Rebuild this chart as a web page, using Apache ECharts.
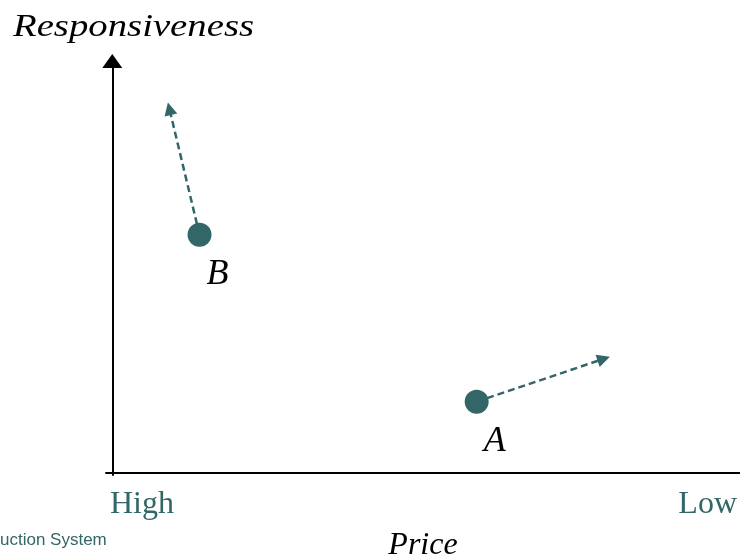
<!DOCTYPE html>
<html>
<head>
<meta charset="utf-8">
<script src="https://cdn.jsdelivr.net/npm/echarts@6/dist/echarts.min.js"></script>
<style>
  html, body { margin: 0; padding: 0; background: #ffffff; }
  #chart { width: 740px; height: 559px; }
</style>
</head>
<body>
<div id="chart"></div>
<script>
// Positioning of two suppliers by price (high -> low) and responsiveness
const pointNames = ['A', 'B'];
const priceValues = [58.05, 13.9];
const responsivenessValues = [17.3, 57.8];

// Where each supplier is heading
const moveToPrice = [78.3, 9.1];
const moveToResponsiveness = [27.7, 88.4];

const priceTickLabels = ['High', 'Low'];
const xAxisTitle = 'Price';
const yAxisTitle = 'Responsiveness';
const footerText = 'uction System';

const xMin = -1, xMax = 100;
const yMin = -0.5, yMax = 100;

const teal = '#336666';
const serif = '"Liberation Serif", "Times New Roman", serif';

const scatterData = pointNames.map((n, i) => ({ name: n, value: [priceValues[i], responsivenessValues[i]] }));
const moveData = pointNames.map((n, i) => ({
  coords: [[priceValues[i], responsivenessValues[i]], [moveToPrice[i], moveToResponsiveness[i]]]
}));

const chart = echarts.init(document.getElementById('chart'), null, { renderer: 'canvas' });

chart.setOption({
  animation: false,
  backgroundColor: '#ffffff',
  grid: { left: 106, right: 0, top: 61, bottom: 84, containLabel: false, outerBoundsMode: 'none' },
  xAxis: {
    type: 'value',
    min: xMin,
    max: xMax,
    name: xAxisTitle,
    nameLocation: 'middle',
    nameGap: 55,
    nameTextStyle: { fontFamily: serif, fontStyle: 'italic', fontSize: 32, color: '#000' },
    axisLine: { onZero: true, lineStyle: { color: '#000', width: 2 } },
    axisTick: { show: false },
    splitLine: { show: false },
    axisLabel: {
      customValues: [xMin, xMax],
      formatter: v => (v === xMin ? priceTickLabels[0] : priceTickLabels[1]),
      alignMinLabel: 'left',
      alignMaxLabel: 'right',
      margin: 14,
      padding: [0, 3, 0, 4],
      fontFamily: serif,
      fontSize: 32,
      color: teal
    }
  },
  yAxis: {
    type: 'value',
    min: yMin,
    max: yMax,
    axisLine: {
      onZero: true,
      symbol: ['none', 'triangle'],
      symbolSize: [20, 14],
      lineStyle: { color: '#000', width: 2 }
    },
    axisTick: { show: false },
    axisLabel: { show: false },
    splitLine: { show: false }
  },
  series: [
    {
      type: 'lines',
      coordinateSystem: 'cartesian2d',
      z: 2,
      symbol: ['none', 'triangle'],
      symbolSize: 13,
      lineStyle: { color: teal, width: 2.5, type: [7, 4], opacity: 1 },
      data: moveData,
      silent: true
    },
    {
      type: 'scatter',
      z: 3,
      symbol: 'circle',
      symbolSize: 24,
      itemStyle: { color: teal, opacity: 1 },
      label: {
        show: true,
        formatter: p => p.name,
        position: ['50%', '50%'],
        align: 'center',
        verticalAlign: 'middle',
        offset: [18, 40],
        fontFamily: serif,
        fontStyle: 'italic',
        fontSize: 36,
        color: '#000'
      },
      data: scatterData
    }
  ],
  graphic: [
    {
      type: 'text',
      left: 13,
      top: 12,
      scaleX: 1.25,
      style: {
        text: yAxisTitle,
        fontFamily: serif,
        fontStyle: 'italic',
        fontSize: 31,
        fill: '#000'
      }
    },
    {
      type: 'text',
      left: 0,
      top: 532,
      style: {
        text: footerText,
        fontFamily: '"Liberation Sans", Arial, sans-serif',
        fontSize: 17,
        fill: teal
      }
    }
  ]
});
</script>
</body>
</html>
